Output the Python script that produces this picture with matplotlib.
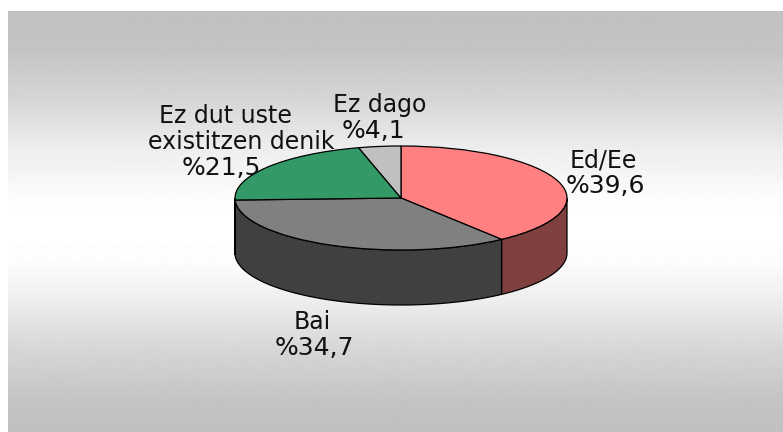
import numpy as np
import matplotlib
matplotlib.use("Agg")
import matplotlib.pyplot as plt

categories = ["Ed/Ee", "Bai", "Ez dut uste\nexistitzen denik", "Ez dago"]
values = [39.6, 34.7, 21.5, 4.1]
percent_labels = ["%39,6", "%34,7", "%21,5", "%4,1"]
top_colors = ["#FF8080", "#808080", "#339966", "#C0C0C0"]
side_colors = ["#804040", "#404040", "#1A4D33", "#606060"]

# (centre x, baseline y) in pixels, per category line and per percent line
name_px = [[(603, 167)], [(312, 329)], [(225, 123), (241, 149)], [(379.5, 112)]]
percent_px = [(605.5, 193), (314, 355), (221.5, 175), (373, 138)]

W, H = 783, 432
CX, CY, RX, RY, DEPTH = 401, 198, 166, 52, 55
grad_y = [11, 50, 100, 150, 200, 230, 260, 300, 350, 400, 432]
grad_v = [0xC0, 0xC4, 0xD6, 0xEE, 0xFD, 0xFF, 0xFD, 0xEE, 0xD6, 0xC4, 0xC0]

fig = plt.figure(figsize=(W / 100, H / 100), dpi=100, facecolor="white")

# Background panel in pixel coordinates
bg = fig.add_axes([0, 0, 1, 1])
rows = np.arange(11, 432)
shade = (np.interp(rows, grad_y, grad_v) / 255).reshape(-1, 1)
bg.imshow(shade, cmap="gray", vmin=0, vmax=1, extent=(8, W, 432, 11), aspect="auto", interpolation="bilinear")
bg.set_xlim(0, W)
bg.set_ylim(H, 0)
bg.axis("off")

# Pie axes: the unit circle maps onto the tilted ellipse
ax = fig.add_axes([0, 0, 1, 1], facecolor="none")
edge = dict(edgecolor="black", linewidth=0.9)

fractions = np.array(values) / sum(values)
ends = np.cumsum(fractions) * 360
starts = ends - fractions * 360
drop = DEPTH / RY
for a, b, c in zip(starts, ends, side_colors):
    lo, hi = max(a, 90), min(b, 270)
    if hi <= lo:
        continue
    t = np.radians(np.linspace(lo, hi, 120))
    x, y = np.sin(t), np.cos(t)
    ax.fill(np.r_[x, x[::-1]], np.r_[y, y[::-1] - drop], facecolor=c, **edge)

ax.pie(values, colors=top_colors, startangle=90, counterclock=False, radius=1,
       wedgeprops=edge)
ax.set_aspect("auto")
ax.set_xlim(-CX / RX, (W - CX) / RX)
ax.set_ylim((CY - H) / RY, CY / RY)
ax.axis("off")

# Labels above everything
top = fig.add_axes([0, 0, 1, 1], facecolor="none")
top.set_xlim(0, W)
top.set_ylim(H, 0)
top.axis("off")
style = dict(ha="center", va="baseline", color="#111111", family="DejaVu Sans")
for name, positions, pct, p in zip(categories, name_px, percent_labels, percent_px):
    for line, (x, y) in zip(name.split("\n"), positions):
        top.text(x, y, line, fontsize=17, **style)
    top.text(p[0], p[1], pct, fontsize=18, **style)

fig.savefig("out.png", dpi=100, facecolor="white")
